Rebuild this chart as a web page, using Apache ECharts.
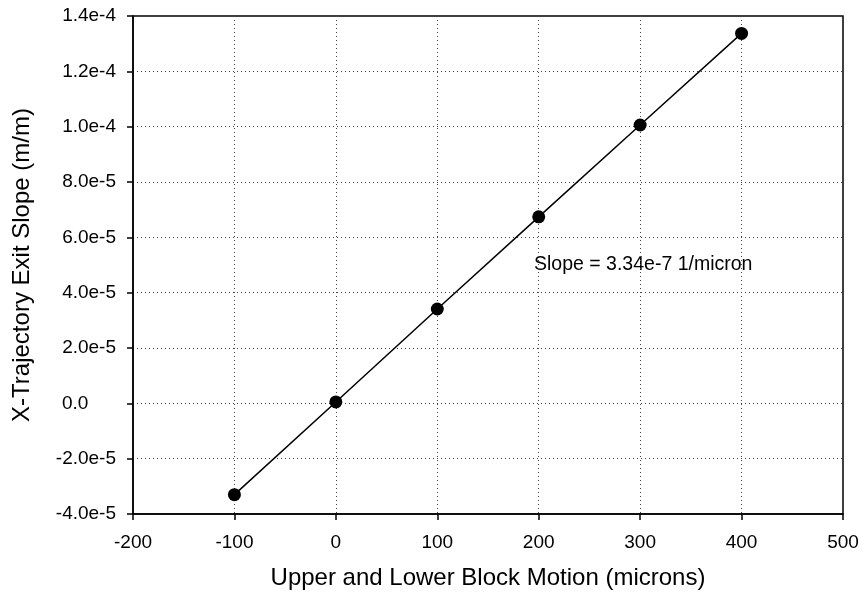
<!DOCTYPE html>
<html>
<head>
<meta charset="utf-8">
<script src="https://cdn.jsdelivr.net/npm/echarts@6/dist/echarts.min.js"></script>
<style>
  html, body { margin: 0; padding: 0; background: #fff; }
  #chart { width: 864px; height: 601px; }
</style>
</head>
<body>
<div id="chart"></div>
<script>
// Block motion (microns) vs. exit slope of the X trajectory (m/m)
const blockMotion = [-100, 0, 100, 200, 300, 400];
const exitSlope = [-3.30e-5, 5.0e-7, 3.41e-5, 6.74e-5, 1.006e-4, 1.337e-4];

// Axis ranges and tick labels
const xMin = -200, xMax = 500, xStep = 100;
const yMin = -4e-5, yMax = 1.4e-4, yStep = 2e-5;
const yTickLabels = ['-4.0e-5', '-2.0e-5', '0.0', '2.0e-5', '4.0e-5', '6.0e-5',
                     '8.0e-5', '1.0e-4', '1.2e-4', '1.4e-4'];

const slopeNote = 'Slope = 3.34e-7 1/micron';
const font = '"Liberation Sans", Arial, sans-serif';

const chart = echarts.init(document.getElementById('chart'), null, { renderer: 'canvas' });

const gridLine = { show: true, lineStyle: { color: '#444', width: 1, type: [1, 3] } };

chart.setOption({
  animation: false,
  backgroundColor: '#fff',
  grid: {
    left: 133, right: 21, top: 16, bottom: 87,
    show: true, borderColor: '#000', borderWidth: 1.5, backgroundColor: 'transparent'
  },
  xAxis: {
    type: 'value',
    min: xMin, max: xMax, interval: xStep,
    name: 'Upper and Lower Block Motion (microns)',
    nameLocation: 'middle',
    nameGap: 52,
    nameTextStyle: { fontFamily: font, fontSize: 24, color: '#000' },
    axisLine: { show: true, onZero: false, lineStyle: { color: '#000', width: 1.5 } },
    axisTick: { show: true, length: 6, inside: false, lineStyle: { color: '#000', width: 1.5 } },
    axisLabel: { fontFamily: font, fontSize: 19, color: '#000', margin: 19 },
    splitLine: gridLine
  },
  yAxis: {
    type: 'value',
    min: yMin, max: yMax, interval: yStep,
    name: 'X-Trajectory Exit Slope (m/m)',
    nameLocation: 'middle',
    nameGap: 99,
    nameTextStyle: { fontFamily: font, fontSize: 24, color: '#000' },
    axisLine: { show: true, onZero: false, lineStyle: { color: '#000', width: 1.5 } },
    axisTick: { show: true, length: 6, inside: false, lineStyle: { color: '#000', width: 1.5 } },
    axisLabel: {
      fontFamily: font, fontSize: 19, color: '#000', margin: 17,
      formatter: v => {
        const s = yTickLabels[Math.round((v - yMin) / yStep)] || '';
        // the zero label sits in a box as wide as "2.0e-5", left aligned
        return s.indexOf('e') < 0 ? '{zero|' + s + '}' : s;
      },
      rich: {
        zero: { fontFamily: font, fontSize: 19, color: '#000', width: 54, align: 'left' }
      }
    },
    splitLine: gridLine
  },
  series: [{
    type: 'line',
    data: blockMotion.map((x, i) => [x, exitSlope[i]]),
    symbol: 'circle',
    symbolSize: 13,
    showAllSymbol: true,
    lineStyle: { color: '#000', width: 1.5 },
    itemStyle: { color: '#000' },
    z: 5
  }],
  graphic: [{
    type: 'text',
    left: 534,
    top: 255,
    style: { text: slopeNote, fontFamily: font, fontSize: 19.5, fill: '#000' }
  }]
});
</script>
</body>
</html>
